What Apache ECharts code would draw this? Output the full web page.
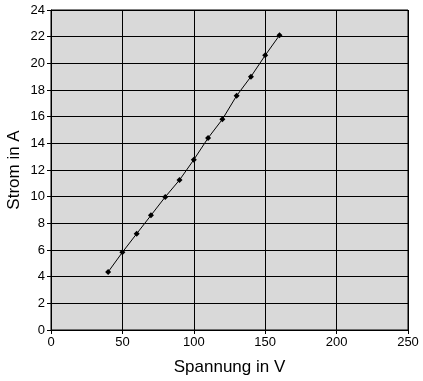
<!DOCTYPE html>
<html><head><meta charset="utf-8">
<script src="https://cdn.jsdelivr.net/npm/echarts@6/dist/echarts.min.js"></script>
<style>html,body{margin:0;padding:0;background:#fff}#c{width:423px;height:381px}</style>
</head><body><div id="c"></div>
<script>
const spannung = [40, 50, 60, 70, 80, 90, 100, 110, 120, 130, 140, 150, 160];
const strom = [4.35, 5.83, 7.22, 8.6, 9.98, 11.25, 12.77, 14.4, 15.8, 17.57, 19.0, 20.6, 22.1];
const xTitle = 'Spannung in V';
const yTitle = 'Strom in A';

const chart = echarts.init(document.getElementById('c'));
const font = '"Liberation Sans", Arial, sans-serif';
chart.setOption({
  animation: false,
  backgroundColor: '#fff',
  grid: { left: 51, right: 15, top: 10, bottom: 51, outerBoundsMode: 'none', containLabel: false, show: true, backgroundColor: '#D9D9D9', borderColor: '#000', borderWidth: 1 },
  xAxis: {
    type: 'value', min: 0, max: 250, interval: 50,
    name: xTitle, nameLocation: 'middle', nameGap: 29, nameMoveOverlap: false,
    nameTextStyle: { fontFamily: font, fontSize: 17, color: '#000' },
    axisLine: { show: true, lineStyle: { color: '#000', width: 1 } },
    axisTick: { show: true, length: 4, lineStyle: { color: '#000' } },
    axisLabel: { fontFamily: font, fontSize: 13, color: '#000', margin: 6 },
    splitLine: { show: true, lineStyle: { color: '#000', width: 1 } }
  },
  yAxis: {
    type: 'value', min: 0, max: 24, interval: 2,
    name: yTitle, nameLocation: 'middle', nameGap: 28, nameRotate: 90, nameMoveOverlap: false,
    nameTextStyle: { fontFamily: font, fontSize: 17, color: '#000' },
    axisLine: { show: true, lineStyle: { color: '#000', width: 1 } },
    axisTick: { show: true, length: 4, lineStyle: { color: '#000' } },
    axisLabel: { fontFamily: font, fontSize: 13, color: '#000', margin: 6 },
    splitLine: { show: true, lineStyle: { color: '#000', width: 1 } }
  },
  series: [{
    type: 'line',
    data: spannung.map((x, i) => [x, strom[i]]),
    symbol: 'diamond', symbolSize: 6,
    lineStyle: { color: '#000', width: 1 },
    itemStyle: { color: '#000' }
  }]
});
</script></body></html>
